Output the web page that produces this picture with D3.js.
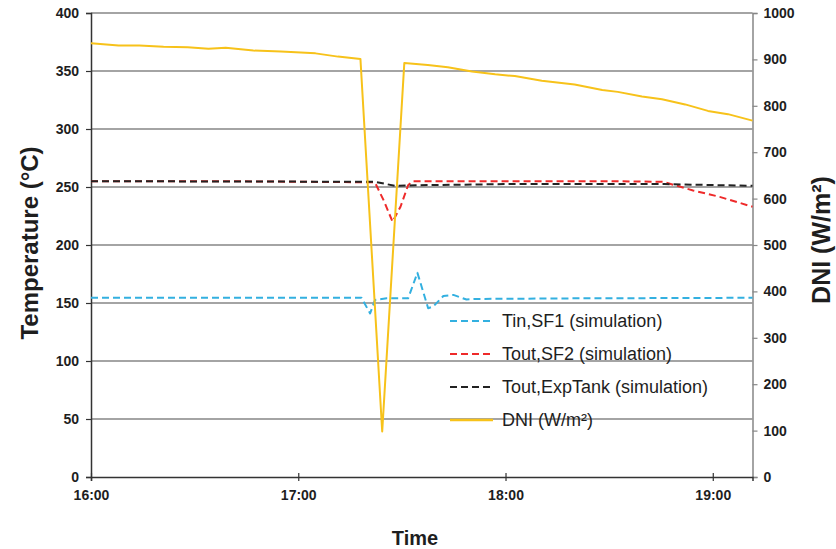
<!DOCTYPE html>
<html>
<head>
<meta charset="utf-8">
<script src="https://cdn.jsdelivr.net/npm/d3@7"></script>
<style>
  html, body { margin: 0; padding: 0; background: #fff; }
  svg { display: block; font-family: "Liberation Sans", Arial, sans-serif; }
</style>
</head>
<body>
<svg id="chart" width="836" height="549"></svg>
<script>
// ---- Data (minutes after 16:00) ----
const timeTicks = [0, 60, 120, 180];
const timeTickLabels = ["16:00", "17:00", "18:00", "19:00"];
const tempTicks = [0, 50, 100, 150, 200, 250, 300, 350, 400];
const dniTicks = [0, 100, 200, 300, 400, 500, 600, 700, 800, 900, 1000];

const seriesNames = ["Tin,SF1 (simulation)", "Tout,SF2 (simulation)", "Tout,ExpTank (simulation)", "DNI (W/m²)"];

const tinSF1Time  = [0, 78.3, 80.8, 82.2, 85.6, 91.8, 94.5, 97.6, 99.1, 102, 104.9, 108.7, 111.6, 140, 191.5];
const tinSF1Temp  = [154.5, 154.5, 141, 152.6, 154, 154, 176, 145.5, 147, 156, 157, 153, 153.5, 154, 154.5];

const toutSF2Time = [0, 40, 82.2, 84.8, 87.3, 89.6, 91.8, 93.1, 120, 150, 165.6, 174.3, 182, 191.5];
const toutSF2Temp = [255, 255, 254, 238, 220, 233, 251.5, 255, 255, 255, 254.5, 247, 241.5, 233];

const toutExpTime = [0, 82.2, 88, 94, 120, 150, 166, 191.5];
const toutExpTemp = [255, 254.5, 251, 251.5, 252.5, 252.5, 252.5, 251];

const dniTime  = [0, 8, 14, 21, 28, 34, 39, 47, 55, 65, 71.5, 78, 84.3, 90.7, 97.5, 103.3, 110.3, 117, 122.7, 130.5, 140, 148, 152.5, 159.5, 165.3, 172, 178.6, 184.4, 191.5];
const dniValue = [935, 930, 930, 927, 926, 923, 925, 919, 917, 913, 906, 901, 98, 892, 888, 883, 874, 868, 864, 854, 846, 834, 830, 820, 814, 803, 789, 782, 768];

// ---- Layout ----
const svg = d3.select("#chart");
const plot = { left: 91, right: 752.5, top: 13, bottom: 477 };

const x = d3.scaleLinear().domain([0, 191.5]).range([plot.left, plot.right]);
const yT = d3.scaleLinear().domain([0, 400]).range([plot.bottom, plot.top]);
const yD = d3.scaleLinear().domain([0, 1000]).range([plot.bottom, plot.top]);

const gridColor = "#868686";
const textColor = "#1e1e1e";

// gridlines
svg.append("g").selectAll("line")
  .data(tempTicks.filter(d => d > 0))
  .join("line")
  .attr("x1", plot.left).attr("x2", plot.right)
  .attr("y1", d => yT(d)).attr("y2", d => yT(d))
  .attr("stroke", gridColor).attr("stroke-width", 1.5);

// right border / axis
const rightAxis = svg.append("g")
  .attr("transform", `translate(${plot.right},0)`)
  .call(d3.axisRight(yD).tickValues(dniTicks).tickFormat(d3.format("d")).tickSize(5).tickPadding(6));
rightAxis.select(".domain").attr("stroke", gridColor).attr("stroke-width", 1.5);
rightAxis.selectAll(".tick line").attr("stroke", gridColor).attr("stroke-width", 1.2);
rightAxis.selectAll(".tick text")
  .attr("fill", textColor).attr("font-size", 14).attr("font-weight", "bold");

// left axis
const leftAxis = svg.append("g")
  .attr("transform", `translate(${plot.left},0)`)
  .call(d3.axisLeft(yT).tickValues(tempTicks).tickSize(5).tickPadding(7));
leftAxis.select(".domain").attr("stroke", "#333").attr("stroke-width", 1.5);
leftAxis.selectAll(".tick line").attr("stroke", "#333").attr("stroke-width", 1.2);
leftAxis.selectAll(".tick text")
  .attr("fill", textColor).attr("font-size", 14).attr("font-weight", "bold");

// bottom axis
const bottomAxis = svg.append("g")
  .attr("transform", `translate(0,${plot.bottom})`)
  .call(d3.axisBottom(x).tickValues(timeTicks)
    .tickFormat((d, i) => timeTickLabels[i]).tickSize(4).tickPadding(9));
bottomAxis.select(".domain").attr("stroke", "#333").attr("stroke-width", 1.5);
bottomAxis.selectAll(".tick line").attr("y1", -4).attr("stroke", "#333").attr("stroke-width", 1.2);
bottomAxis.selectAll(".tick text")
  .attr("fill", textColor).attr("font-size", 14).attr("font-weight", "bold");

// axis titles
svg.append("text")
  .attr("transform", "translate(38,243) rotate(-90)")
  .attr("text-anchor", "middle")
  .attr("fill", textColor).attr("font-size", 24).attr("font-weight", "bold")
  .text("Temperature (°C)");
svg.append("text")
  .attr("transform", "translate(830,240) rotate(-90)")
  .attr("text-anchor", "middle")
  .attr("fill", textColor).attr("font-size", 25).attr("font-weight", "bold")
  .text("DNI (W/m²)");
svg.append("text")
  .attr("x", 415).attr("y", 545)
  .attr("text-anchor", "middle")
  .attr("fill", textColor).attr("font-size", 20).attr("font-weight", "bold")
  .text("Time");

// series
const colors = ["#33b0e0", "#ee2a2a", "#222222", "#f7c21a"];
const dashes = ["7,4", "7,4", "7,4", null];

const series = [
  { t: tinSF1Time, v: tinSF1Temp, y: yT },
  { t: toutSF2Time, v: toutSF2Temp, y: yT },
  { t: toutExpTime, v: toutExpTemp, y: yT },
  { t: dniTime, v: dniValue, y: yD }
];

series.forEach((s, i) => {
  const line = d3.line().x((d, k) => x(s.t[k])).y(d => s.y(d));
  svg.append("path")
    .datum(s.v)
    .attr("d", line)
    .attr("fill", "none")
    .attr("stroke", colors[i])
    .attr("stroke-width", 2)
    .attr("stroke-linejoin", "round")
    .attr("stroke-dasharray", dashes[i]);
});

// legend
const legend = svg.append("g").attr("transform", "translate(450,321)");
const rows = legend.selectAll("g").data(seriesNames).join("g")
  .attr("transform", (d, i) => `translate(0,${i * 33})`);
rows.append("line")
  .attr("x1", 0).attr("x2", 43).attr("y1", 0).attr("y2", 0)
  .attr("stroke", (d, i) => colors[i])
  .attr("stroke-width", (d, i) => i === 3 ? 2.5 : 2)
  .attr("stroke-dasharray", (d, i) => dashes[i]);
rows.append("text")
  .attr("x", 52).attr("y", 0).attr("dy", "0.35em")
  .attr("fill", textColor).attr("font-size", 18)
  .text(d => d);
</script>
</body>
</html>
